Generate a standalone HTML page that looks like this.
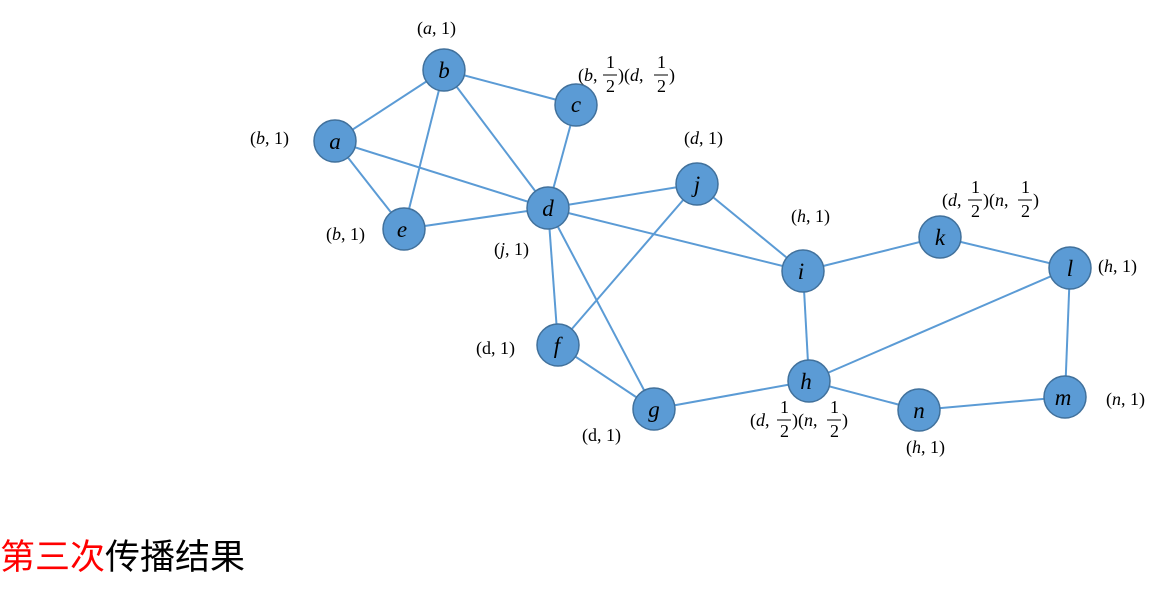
<!DOCTYPE html>
<html><head><meta charset="utf-8"><style>
html,body{margin:0;padding:0;background:#fff;width:1165px;height:591px;overflow:hidden}
svg text{font-family:"Liberation Serif",serif;font-size:18px;fill:#000}
.n{font-style:italic;font-size:23px}
.t{position:absolute;left:0;top:538px;font-family:"Liberation Sans","Noto Sans CJK SC",sans-serif;font-size:35px;line-height:40px}
</style></head><body>
<svg width="1165" height="591" style="position:absolute;left:0;top:0">
<g stroke="#5b9bd5" stroke-width="2">
<line x1="335" y1="141" x2="444" y2="70"/>
<line x1="335" y1="141" x2="548" y2="208"/>
<line x1="335" y1="141" x2="404" y2="229"/>
<line x1="444" y1="70" x2="404" y2="229"/>
<line x1="444" y1="70" x2="576" y2="105"/>
<line x1="444" y1="70" x2="548" y2="208"/>
<line x1="576" y1="105" x2="548" y2="208"/>
<line x1="548" y1="208" x2="404" y2="229"/>
<line x1="548" y1="208" x2="697" y2="184"/>
<line x1="548" y1="208" x2="803" y2="271"/>
<line x1="548" y1="208" x2="558" y2="345"/>
<line x1="548" y1="208" x2="654" y2="409"/>
<line x1="697" y1="184" x2="558" y2="345"/>
<line x1="697" y1="184" x2="803" y2="271"/>
<line x1="803" y1="271" x2="940" y2="237"/>
<line x1="940" y1="237" x2="1070" y2="268"/>
<line x1="803" y1="271" x2="809" y2="381"/>
<line x1="1070" y1="268" x2="809" y2="381"/>
<line x1="1070" y1="268" x2="1065" y2="397"/>
<line x1="558" y1="345" x2="654" y2="409"/>
<line x1="654" y1="409" x2="809" y2="381"/>
<line x1="809" y1="381" x2="919" y2="410"/>
<line x1="919" y1="410" x2="1065" y2="397"/>
</g>
<g fill="#5b9bd5" stroke="#41719c" stroke-width="1.5">
<circle cx="335" cy="141" r="21"/><circle cx="444" cy="70" r="21"/><circle cx="576" cy="105" r="21"/>
<circle cx="548" cy="208" r="21"/><circle cx="404" cy="229" r="21"/><circle cx="697" cy="184" r="21"/>
<circle cx="803" cy="271" r="21"/><circle cx="940" cy="237" r="21"/><circle cx="1070" cy="268" r="21"/>
<circle cx="558" cy="345" r="21"/><circle cx="654" cy="409" r="21"/><circle cx="809" cy="381" r="21"/>
<circle cx="919" cy="410" r="21"/><circle cx="1065" cy="397" r="21"/>
</g>
<g text-anchor="middle">
<text class="n" x="335" y="149">a</text><text class="n" x="444" y="78">b</text><text class="n" x="576" y="112">c</text>
<text class="n" x="548" y="216">d</text><text class="n" x="402" y="237">e</text><text class="n" x="697" y="192">j</text>
<text class="n" x="801" y="279">i</text><text class="n" x="940" y="245">k</text><text class="n" x="1070" y="276">l</text>
<text class="n" x="557" y="353">f</text><text class="n" x="654" y="417">g</text><text class="n" x="806" y="389">h</text>
<text class="n" x="919" y="418">n</text><text class="n" x="1063" y="405">m</text>
</g>
<text x="417" y="34" font-size="15">(<tspan font-style="italic">a</tspan>, 1)</text>
<text x="250" y="144">(<tspan font-style="italic">b</tspan>, 1)</text>
<text x="326" y="240">(<tspan font-style="italic">b</tspan>, 1)</text>
<text x="494" y="255">(<tspan font-style="italic">j</tspan>, 1)</text>
<text x="684" y="144">(<tspan font-style="italic">d</tspan>, 1)</text>
<text x="791" y="222" font-size="15">(<tspan font-style="italic">h</tspan>, 1)</text>
<text x="1098" y="272">(<tspan font-style="italic">h</tspan>, 1)</text>
<text x="476" y="354">(d, 1)</text>
<text x="582" y="441">(d, 1)</text>
<text x="906" y="453">(<tspan font-style="italic">h</tspan>, 1)</text>
<text x="1106" y="405">(<tspan font-style="italic">n</tspan>, 1)</text>
<!-- c label -->
<text x="578" y="81">(<tspan font-style="italic">b</tspan>,</text>
<text x="606" y="68">1</text><line x1="603" y1="75" x2="617" y2="75" stroke="#000"/><text x="606" y="92">2</text>
<text x="618" y="81">)(<tspan font-style="italic">d</tspan>,</text>
<text x="657" y="68">1</text><line x1="654" y1="75" x2="668" y2="75" stroke="#000"/><text x="657" y="92">2</text>
<text x="669" y="81">)</text>
<!-- k label -->
<text x="942" y="206">(<tspan font-style="italic">d</tspan>,</text>
<text x="971" y="193">1</text><line x1="968" y1="200" x2="982" y2="200" stroke="#000"/><text x="971" y="217">2</text>
<text x="983" y="206">)(<tspan font-style="italic">n</tspan>,</text>
<text x="1021" y="193">1</text><line x1="1018" y1="200" x2="1032" y2="200" stroke="#000"/><text x="1021" y="217">2</text>
<text x="1033" y="206">)</text>
<!-- h label -->
<text x="750" y="426">(<tspan font-style="italic">d</tspan>,</text>
<text x="780" y="413">1</text><line x1="777" y1="420" x2="791" y2="420" stroke="#000"/><text x="780" y="437">2</text>
<text x="792" y="426">)(<tspan font-style="italic">n</tspan>,</text>
<text x="830" y="413">1</text><line x1="827" y1="420" x2="841" y2="420" stroke="#000"/><text x="830" y="437">2</text>
<text x="842" y="426">)</text>
</svg>
<div class="t"><span style="color:#ff0000">第三次</span>传播结果</div>
</body></html>
